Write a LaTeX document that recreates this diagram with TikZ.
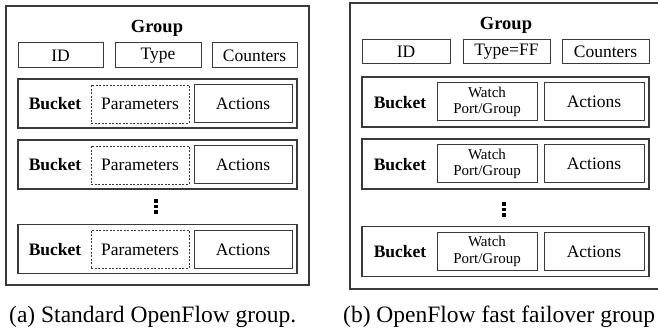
\documentclass[tikz,border=0pt]{standalone}
\usepackage{fontspec}
\setmainfont{Liberation Serif}
\definecolor{linegray}{HTML}{3A3A3A}
\tikzset{
  box/.style={draw=linegray, line width=1pt, inner sep=0pt, font=\fontsize{17.5}{20}\selectfont},
  dashbox/.style={box, dash pattern=on 2pt off 1.5pt, line width=0.8pt},
  bucketbox/.style={draw=linegray, line width=1.1pt, inner sep=0pt},
  outerbox/.style={draw=linegray, line width=1.2pt},
  bucketlbl/.style={inner sep=0pt, font=\bfseries\fontsize{17.5}{20}\selectfont},
  title/.style={inner sep=0pt, anchor=base, font=\bfseries\fontsize{18.5}{20}\selectfont},
  watchbox/.style={box, align=center, font=\fontsize{15}{16.5}\selectfont},
  caption/.style={inner sep=0pt, anchor=base west, font=\fontsize{23.5}{26}\selectfont},
  dot/.style={fill=black, minimum size=3.2pt, inner sep=0pt, rectangle}
}
\begin{document}
\begin{tikzpicture}[x=1pt,y=-1pt]
\clip (0,0) rectangle (658,336);
\fill[white] (0,0) rectangle (658,336);
% ---------------- left panel ----------------
\node[outerbox, minimum width=303, minimum height=279, inner sep=0pt] (lout) at (157.5,145.5) {};
\node[title] (lgroup) at (157,33) {Group};
\node[box, minimum width=85, minimum height=25] (lid) at (60.5,55.5) {ID};
\node[box, minimum width=86, minimum height=25] (ltype) at (158,55.5) {Type};
\node[box, minimum width=85, minimum height=25] (lcnt) at (254.5,55.5) {Counters};
\foreach \i/\yc in {1/103.5, 2/164.5, 3/249} {
  \node[bucketbox, minimum width=279, minimum height=49] (lb\i) at (157.5,\yc) {};
  \node[bucketlbl] (lbl\i) at (55,\yc+0.5) {Bucket};
  \node[dashbox, minimum width=98, minimum height=38] (lp\i) at (140,\yc+0.5) {Parameters};
  \node[box, minimum width=98, minimum height=38] (la\i) at (243,\yc+0.5) {Actions};
}
\node[dot] (ld1) at (156,201) {};
\node[dot] (ld2) at (156,206.5) {};
\node[dot] (ld3) at (156,212) {};
\node[caption] (lcap) at (9,323) {(a) Standard OpenFlow group.};
% ---------------- right panel ----------------
\coordinate (rtr) at (700,3);
\coordinate (rtl) at (350,3);
\coordinate (rbl) at (350,289);
\coordinate (rbr) at (700,289);
\draw[outerbox] (rtr) -- (rtl) -- (rbl) -- (rbr);
\node[title] (rgroup) at (506,30) {Group};
\node[box, minimum width=88, minimum height=24] (rid) at (406,52) {ID};
\node[box, minimum width=87, minimum height=24] (rtype) at (506.5,52) {Type=FF};
\node[box, minimum width=87, minimum height=24] (rcnt) at (605.5,52) {Counters};
\foreach \i/\yc in {1/102, 2/164, 3/251.5} {
  \node[bucketbox, minimum width=287, minimum height=50] (rb\i) at (505.5,\yc) {};
  \node[bucketlbl] (rbl\i) at (400,\yc+0.5) {Bucket};
  \node[watchbox, minimum width=100, minimum height=38] (rw\i) at (487,\yc) {Watch\\Port/Group};
  \node[box, minimum width=100, minimum height=38] (ra\i) at (594,\yc) {Actions};
}
\node[dot] (rd1) at (504,204) {};
\node[dot] (rd2) at (504,209.5) {};
\node[dot] (rd3) at (504,215) {};
\node[caption] (rcap) at (343,323) {(b) OpenFlow fast failover group};
\end{tikzpicture}
\end{document}
